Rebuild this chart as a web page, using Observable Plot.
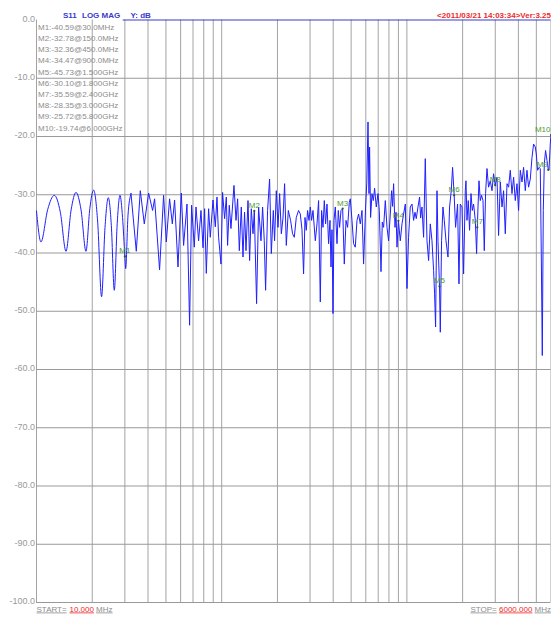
<!DOCTYPE html>
<html><head><meta charset="utf-8">
<script src="https://cdn.jsdelivr.net/npm/d3@7"></script>
<script src="https://cdn.jsdelivr.net/npm/@observablehq/plot@0.6"></script>
<style>html,body{margin:0;padding:0;background:#fff}</style>
</head><body><div id="chart"></div>
<script>
// S11 trace (frequency in MHz, magnitude in dB)
const freqMHz = [
10.0,10.57,11.5,12.48,13.45,14.43,15.38,16.34,17.4,18.5,19.4,20.34,21.4,22.46,23.44,24.42,25.36,26.31,27.27,28.24,29.15,30.0,30.3,31.2,32.38,
34.58,36.35,38.2,40.3,42.36,43.42,46.2,48.56,50.22,52.32,54.12,55.68,58.08,60.52,62.27,64.96,67.1,68.79,71.14,72.65,75.04,77.31,79.26,80.86,82.58,84.98,86.78,89.74,92.35,94.32,96.22,99.13,
101.1,103.7,105.9,107.6,109.9,112.2,116.5,119.5,121.9,124.5,127.6,130.3,132.9,135.3,138.7,141.5,144.5,147.6,150,154.3,158.2,163,166.3,169.8,172.6,176.9,181.4,185.3,190,193,197.2,
201.4,205.5,209.9,214.3,218.6,223.3,228.9,235.5,241.4,246.6,252.8,260.1,265.7,271.4,276.8,281.7,286.3,290.9,296.1,300.9,305.8,311.2,320.2,327.1,333.6,340.8,346.3,352.4,358.1,363.9,370.3,377.7,384.4,389.2,394.1,399,
404,410.6,419.4,426.2,433.1,440.8,450,459.2,469.1,478.5,488.7,494.9,505.3,515.4,526.4,537.7,548.5,560.2,572.2,583.7,598.4,607.4,616.6,624.3,628.9,636.8,648,658.6,669.3,683.6,698.2,709.6,724.8,736.6,748.6,764.6,781,796.6,
813.7,827,837.3,847.7,862.7,873.5,884.4,900,921.4,941.1,960,980.4,1001,1021,1043,1066,1087,1106,1124,1148,1171,1186,1206,1231,1257,1284,1310,1338,1366,1394,1411,1429,1454,1472,1500,1515,1539,1566,1592,1626,1667,1700,1736,1765,1800,1832,1878,1911,1942,1984,
2009,2024,2067,2085,2111,2145,2180,2219,2255,2292,2341,2379,2400,2421,2451,2491,2531,2576,2618,2660,2707,2761,2820,2881,2938,3000,3066,3127,3194,3263,3328,3399,3472,3541,3617,3694,3769,3849,3931,
4010,4096,4184,4267,4358,4451,4541,4638,4737,4832,4935,4997,5078,5168,5252,5318,5384,5451,5520,5609,5708,5800,5851,5946,6000
];
const s11dB = [
-32.8,-38.1,-32.5,-30.1,-33.0,-39.7,-32.6,-29.6,-32.6,-39.7,-32.4,-29.2,-34.7,-47.5,-35.6,-30.5,-35.3,-46.4,-35.0,-30.1,-33.9,-40.6,-42.7,-33.5,-29.8,
-39.7,-29.3,-35,-29.7,-32.7,-30.7,-42.9,-30.1,-38.1,-30.7,-35,-30.9,-42.4,-29.7,-38.7,-31.6,-52.4,-31.8,-39,-32.1,-37.9,-32.7,-39.1,-32.4,-43.5,-32.4,-37.3,-30.9,-35.5,-30.4,-37.3,-41.9,
-29.6,-34.1,-30.4,-38.7,-31.8,-35.8,-28.4,-34.4,-30.7,-39.6,-32.1,-40.7,-33,-39.6,-31,-41.3,-32.4,-36.7,-32.8,-48.7,-32.1,-37.9,-32.1,-37.9,-46.4,-32.7,-27.3,-40.1,-32.7,-37.9,-29.3,
-35.6,-29.8,-36.7,-34,-28.1,-38.7,-32.7,-34.4,-36.7,-37.3,-33.9,-32.7,-33.3,-36,-43.6,-33.9,-36.1,-32.7,-34.4,-32.1,-34.4,-32.7,-37.9,-35,-31,-48.4,-32.7,-35.6,-31,-35,-31.6,-38.4,-34.4,-42.4,-36,-50.4,
-34.4,-32.1,-38.4,-32.7,-35.6,-32.7,-32.4,-41.9,-34.4,-35.6,-31.3,-30.7,-34.4,-38.4,-39,-34.4,-33.3,-35,-32.7,-41.9,-32.1,-28,-17.5,-29.8,-21.8,-33.9,-29.8,-31,-28.9,-32.1,-29.8,-32.7,-43.2,-34.7,-35.6,-31,-35.6,-37.9,
-33.3,-29.3,-32,-28.1,-35.6,-33,-39,-34.5,-37.9,-35,-33.3,-31.6,-46.1,-37.3,-32.1,-31.6,-34.4,-33,-34.1,-32.1,-30.4,-34,-32.1,-37.3,-23.8,-37.9,-41.3,-35,-37.9,-43,-47,-52.7,-29.3,-38,-45.7,-53.6,-37.9,-32.1,-34.4,-37.9,-40.7,-32.1,-29.3,-25.3,-30.1,-35.6,-31.6,-45.3,-31.6,-32.1,
-39.6,-43.6,-29.3,-27.6,-34.4,-31,-36.1,-29.8,-32.7,-31.6,-34.4,-40.1,-35.6,-32.1,-27.6,-31,-30.1,-31,-39.6,-29.8,-25.5,-28.7,-27.6,-29.3,-26.4,-28.35,-27,-37,-27.8,-32.1,-29.3,-36.7,-28.1,-28.7,-25.8,-29.8,-27,-31,-28.1,
-32.7,-25.8,-27.8,-25.3,-29.3,-25.8,-28.7,-27.3,-23.6,-21.3,-21.8,-23,-25.8,-25.3,-25.5,-40.1,-57.6,-32.7,-24.7,-22.4,-24.1,-25.7,-25.8,-21.3,-19.74
];
const smoothCount = 25; // first points form the smooth low-frequency ripple

// markers
const markerNames = ["M1","M2","M3","M4","M5","M6","M7","M8","M9","M10"];
const markerFreqMHz = [30,150,450,900,1500,1800,2400,3000,5800,6000];
const markerdB = [-40.59,-32.78,-32.36,-34.47,-45.73,-30.10,-35.59,-28.35,-25.72,-19.74];

// axes / grid
const yTicks = [0,-10,-20,-30,-40,-50,-60,-70,-80,-90,-100];
const xGrid = [10,20,30,40,50,60,70,80,90,100,200,300,400,500,600,700,800,900,1000,2000,3000,4000,5000,6000];
const startMHz = 10, stopMHz = 6000;

const fmtFreq = f => f < 1000 ? f.toFixed(1) + "MHz" : (f / 1000).toFixed(3) + "GHz";
const markerLines = markerNames.map((n, i) => `${n}:${markerdB[i].toFixed(2)}@${fmtFreq(markerFreqMHz[i])}`);

const idx = d3.range(freqMHz.length);
const smoothIdx = idx.slice(0, smoothCount);
const restIdx = idx.slice(smoothCount - 1);
const mIdx = d3.range(markerNames.length);

const gray = "#8c8c8c", blue = "#3a3acc", red = "#ee2a2a", green = "#4e9a32";

const chart = Plot.plot({
  width: 551, height: 617,
  marginLeft: 36, marginRight: 0.5, marginTop: 19.5, marginBottom: 15,
  style: {fontFamily: "'Liberation Sans', Arial, sans-serif", background: "#fff"},
  x: {type: "log", domain: [startMHz, stopMHz], axis: null},
  y: {domain: [-100, 0], label: null},
  marks: [
    Plot.ruleX(xGrid, {stroke: "#a3a3a3", strokeWidth: 1}),
    Plot.ruleY(yTicks.filter(d => d !== 0), {stroke: "#999", strokeWidth: 1}),
    Plot.ruleY([0], {x1: 29.4, x2: stopMHz, stroke: blue, strokeWidth: 1}),
    Plot.axisY({ticks: yTicks, tickSize: 0, tickPadding: 1.5, tickFormat: d => d.toFixed(1), fontSize: 9, fill: "#999", dy: -1}),
    Plot.line(smoothIdx, {x: i => freqMHz[i], y: i => s11dB[i], stroke: "#1f1fff", strokeWidth: 1, curve: "monotone-x"}),
    Plot.line(restIdx, {x: i => freqMHz[i], y: i => s11dB[i], stroke: "#1f1fff", strokeWidth: 1}),
    Plot.dot(mIdx, {x: i => markerFreqMHz[i], y: i => markerdB[i], r: 1.1, fill: "#2a5a20"}),
    Plot.text(mIdx.filter(i => i < 8), {x: i => markerFreqMHz[i], y: i => markerdB[i], text: i => markerNames[i], dy: -5.5, fontSize: 8, fill: green, textAnchor: "middle"}),
    Plot.text(mIdx.filter(i => i >= 8), {x: i => markerFreqMHz[i], y: i => markerdB[i], text: i => markerNames[i], dy: -5.5, dx: -0.5, fontSize: 8, fill: green, textAnchor: "end"}),
    Plot.text([markerLines.join("\n")], {text: d => d, frameAnchor: "top-left", dx: 1.5, dy: 1.9, lineAnchor: "top", textAnchor: "start", lineHeight: 1.4, fontSize: 8, fill: gray}),
    Plot.text(["S11"], {text: d => d, frameAnchor: "top-left", dx: 26.5, dy: -2.3, lineAnchor: "bottom", textAnchor: "start", fontSize: 8, fontWeight: "bold", fill: blue}),
    Plot.text(["LOG MAG"], {text: d => d, frameAnchor: "top-left", dx: 45.5, dy: -2.3, lineAnchor: "bottom", textAnchor: "start", fontSize: 8, fontWeight: "bold", fill: blue}),
    Plot.text(["Y: dB"], {text: d => d, frameAnchor: "top-left", dx: 94, dy: -2.3, lineAnchor: "bottom", textAnchor: "start", fontSize: 8, fontWeight: "bold", fill: blue}),
    Plot.text(["<2011/03/21 14:03:34>Ver:3.25"], {text: d => d, frameAnchor: "top-right", dx: 0, dy: -2.3, lineAnchor: "bottom", textAnchor: "end", fontSize: 8, fontWeight: "bold", fill: red}),
    Plot.text(["START="], {text: d => d, frameAnchor: "bottom-left", dx: 0, dy: 9, lineAnchor: "bottom", textAnchor: "start", fontSize: 8, fill: gray}),
    Plot.text([startMHz.toFixed(3)], {text: d => d, frameAnchor: "bottom-left", dx: 33, dy: 9, lineAnchor: "bottom", textAnchor: "start", fontSize: 8, fill: red}),
    Plot.text(["MHz"], {text: d => d, frameAnchor: "bottom-left", dx: 59.6, dy: 9, lineAnchor: "bottom", textAnchor: "start", fontSize: 8, fill: gray}),
    Plot.text(["MHz"], {text: d => d, frameAnchor: "bottom-right", dx: 0, dy: 9, lineAnchor: "bottom", textAnchor: "end", fontSize: 8, fill: gray}),
    Plot.text([stopMHz.toFixed(3)], {text: d => d, frameAnchor: "bottom-right", dx: -18.6, dy: 9, lineAnchor: "bottom", textAnchor: "end", fontSize: 8, fill: red}),
    Plot.text(["STOP="], {text: d => d, frameAnchor: "bottom-right", dx: -54.2, dy: 9, lineAnchor: "bottom", textAnchor: "end", fontSize: 8, fill: gray})
  ]
});
document.getElementById("chart").appendChild(chart);
// underline the start/stop annotations
const under = new Set(["START=", "STOP=", "MHz", startMHz.toFixed(3), stopMHz.toFixed(3)]);
chart.querySelectorAll("text").forEach(t => {
  if (under.has(t.textContent)) t.setAttribute("text-decoration", "underline");
});
</script>
</body></html>
